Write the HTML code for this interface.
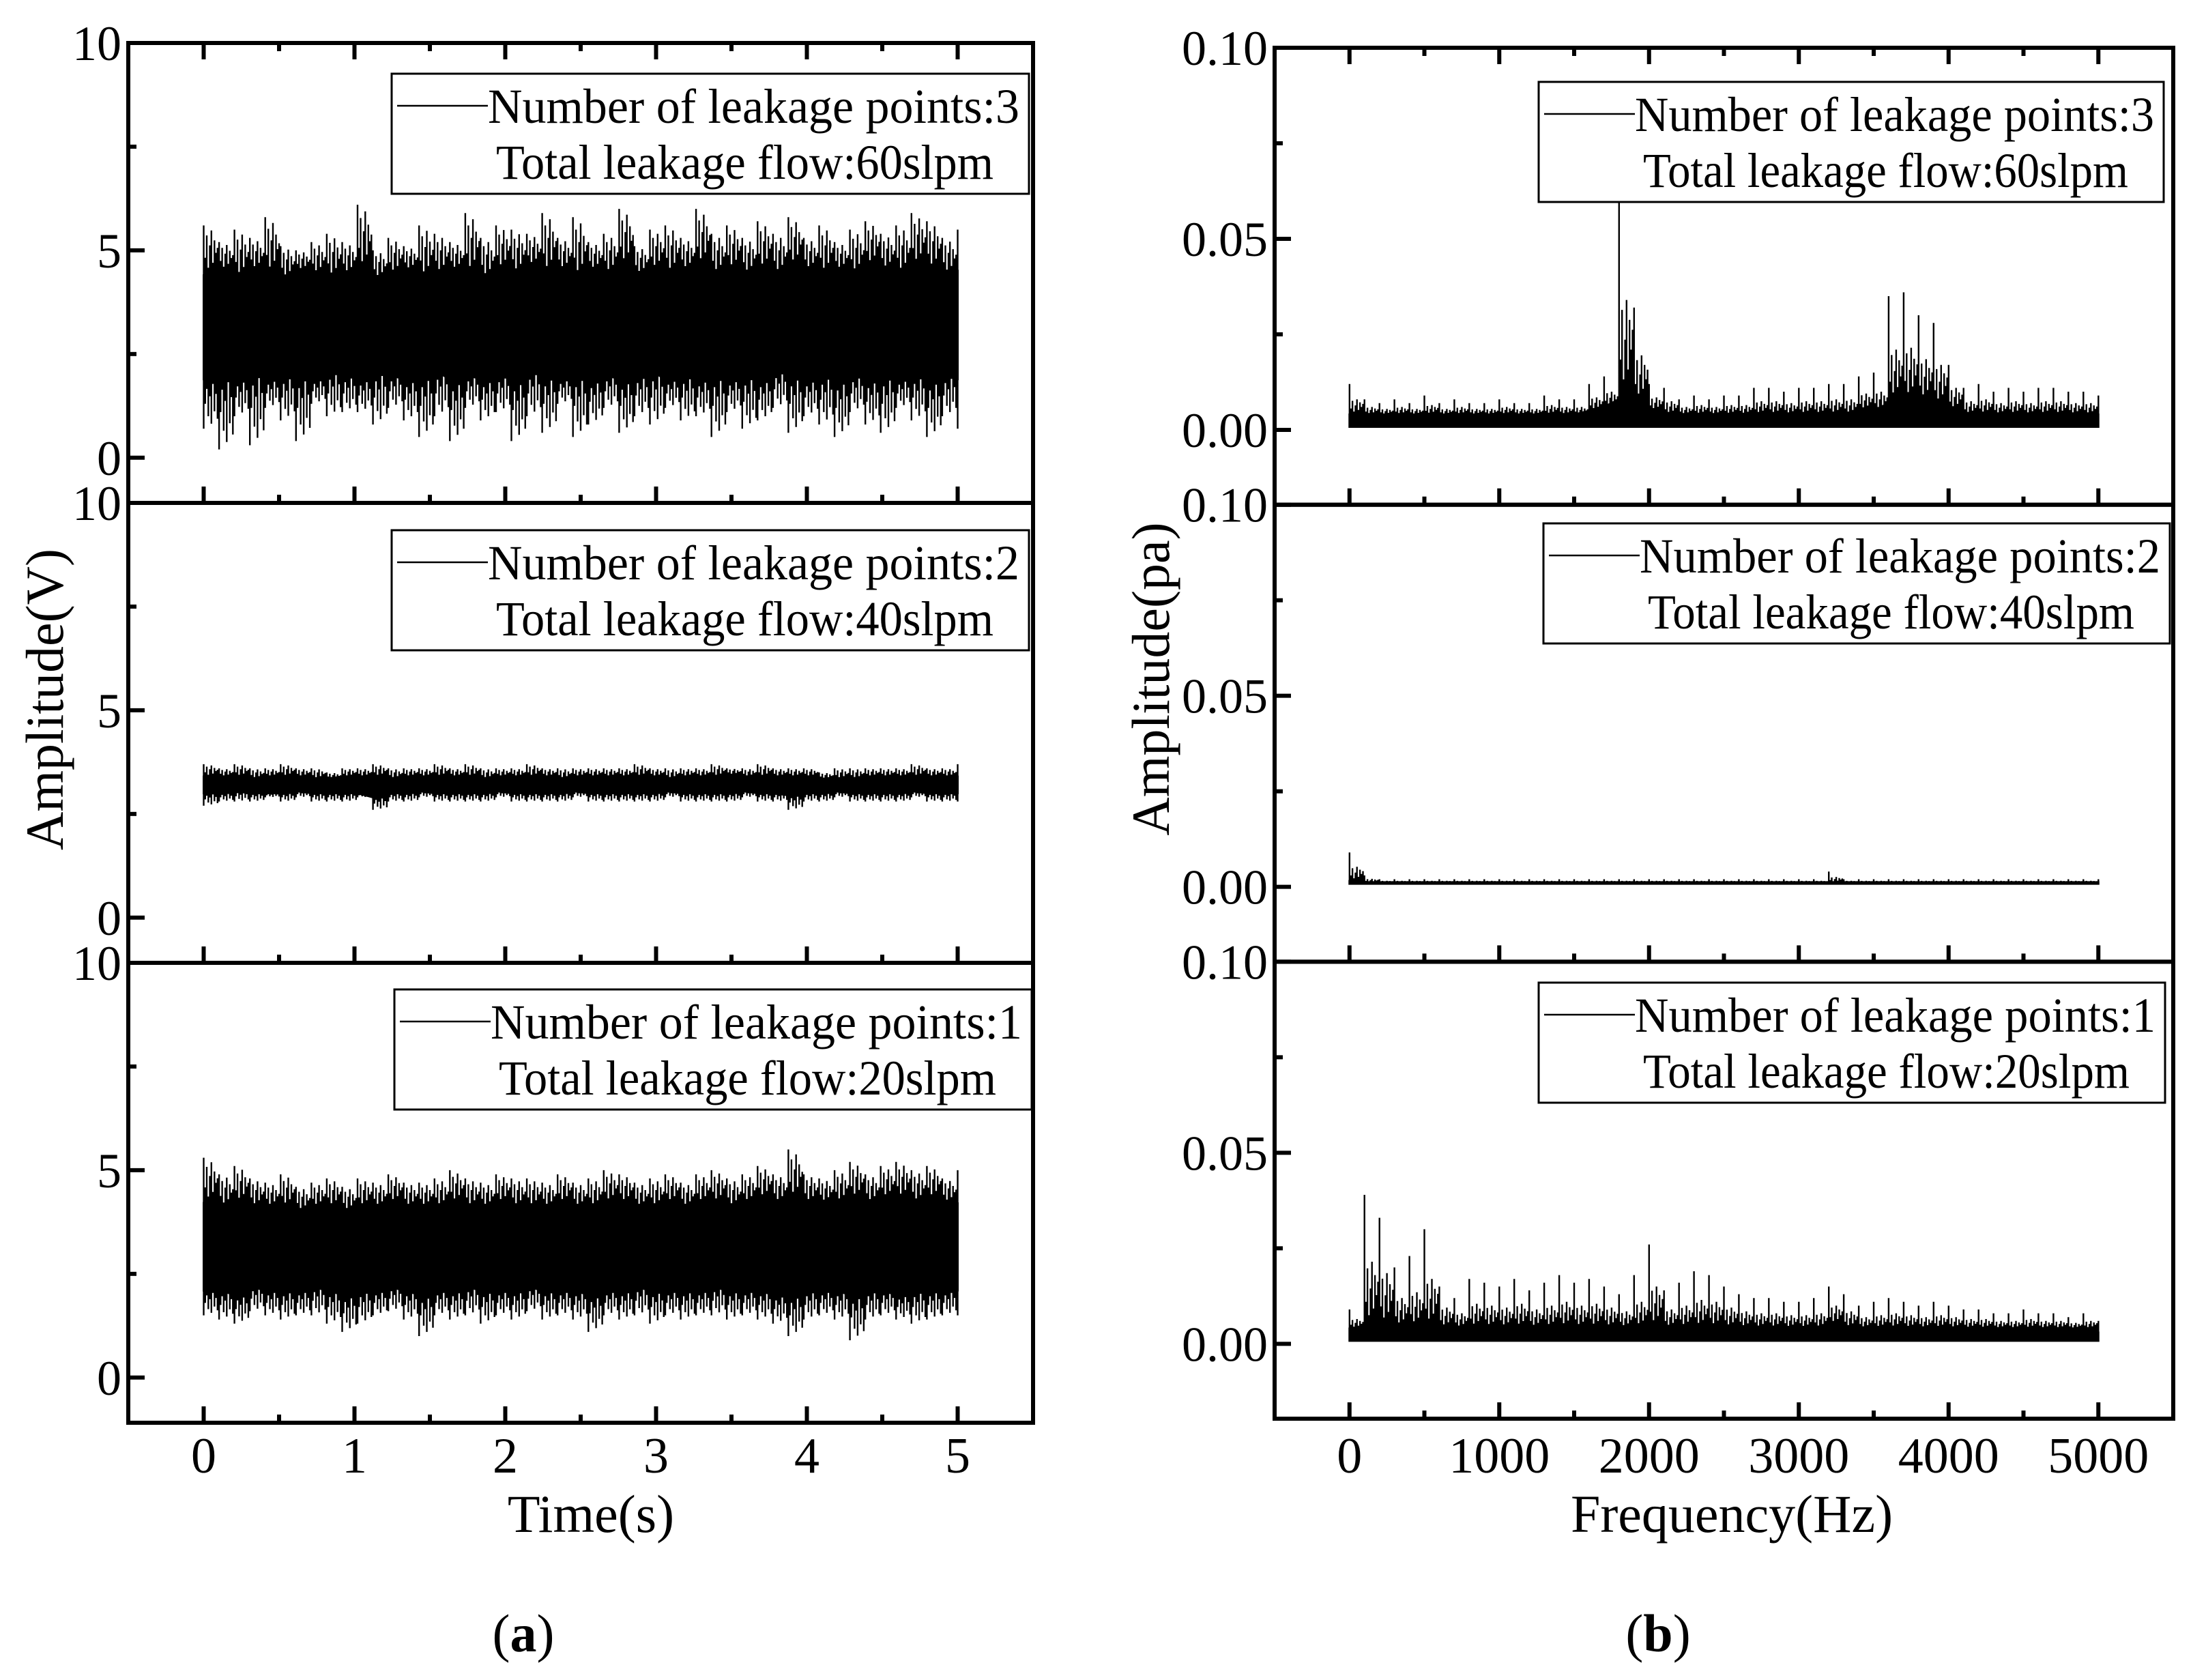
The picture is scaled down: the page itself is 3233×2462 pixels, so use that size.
<!DOCTYPE html>
<html><head><meta charset="utf-8">
<style>
html,body{margin:0;padding:0;background:#fff;}
svg{display:block;font-family:"Liberation Serif","Times New Roman",serif;}
</style></head>
<body>
<svg id="fig" width="3233" height="2462" viewBox="0 0 3233 2462" xmlns="http://www.w3.org/2000/svg">
<rect width="3233" height="2462" fill="#fff"/>
<g id="chartA"></g>
<g id="chartB"></g>
<text x="0" y="0" font-size="78" text-anchor="middle" transform="translate(92,1025) rotate(-90)">Amplitude(V)</text>
<text x="0" y="0" font-size="78" text-anchor="middle" transform="translate(1713,995) rotate(-90)">Amplitude(pa)</text>
<text x="866" y="2245" font-size="78" text-anchor="middle">Time(s)</text>
<text x="2538" y="2245" font-size="78" text-anchor="middle">Frequency(Hz)</text>
<text x="767" y="2420" font-size="78" text-anchor="middle">(<tspan font-weight="bold">a</tspan>)</text>
<text x="2430" y="2420" font-size="78" text-anchor="middle">(<tspan font-weight="bold">b</tspan>)</text>
</svg>
<script>
// ---- Chart (a) data: time-domain envelopes, 50 bins over 0..5 s ----
const timeTicks = [0,1,2,3,4,5];
const ampTicksA = [0,5,10];
const legendCountsA = [3,2,1];
const legendFlowsA = [60,40,20];
const a1Upper = [5.6,5.2,5.5,5.3,5.8,5.1,5.0,5.2,5.4,5.2,6.1,5.0,5.3,5.1,5.6,5.4,5.2,5.9,5.3,5.6,5.5,5.4,5.9,5.3,5.8,5.2,5.4,6.0,5.1,5.5,5.6,5.3,6.0,5.4,5.6,5.3,5.7,5.4,5.8,5.3,5.6,5.2,5.5,5.7,5.4,5.6,5.9,5.7,5.3,5.5];
const a1Lower = [0.7,0.2,1.0,0.3,1.2,0.9,0.4,1.3,1.0,1.1,1.1,0.8,1.2,0.9,0.5,1.0,0.4,1.2,0.9,1.1,0.4,1.0,0.6,1.3,0.5,0.8,1.2,0.6,1.0,0.8,1.2,0.9,1.0,0.5,1.1,0.7,0.9,1.2,0.6,1.0,0.8,0.5,1.1,0.8,0.6,1.2,0.9,0.5,1.0,0.7];
const a1CoreHi = [4.4,4.5,4.3,4.5,4.4,4.3,4.5,4.4,4.3,4.4,4.5,4.3,4.4,4.5,4.3,4.4,4.5,4.4,4.3,4.5,4.4,4.6,4.4,4.5,4.3,4.5,4.4,4.6,4.4,4.5,4.4,4.5,4.6,4.4,4.5,4.4,4.5,4.4,4.6,4.5,4.4,4.5,4.4,4.6,4.5,4.4,4.6,4.5,4.4,4.5];
const a1CoreLo = [1.9,2.0,1.9,2.1,1.9,2.0,2.0,1.9,2.1,2.0,1.9,2.1,2.0,1.9,2.0,2.1,1.9,2.0,1.9,2.0,1.9,2.1,2.0,1.9,2.0,1.9,2.0,1.9,2.0,2.1,1.9,2.0,1.9,2.0,1.9,2.0,1.9,2.1,2.0,1.9,2.0,1.9,2.0,1.9,2.0,1.9,2.0,1.9,2.0,1.9];
const a2Upper = [3.7,3.6,3.7,3.6,3.6,3.7,3.6,3.6,3.5,3.6,3.6,3.7,3.6,3.6,3.6,3.7,3.6,3.7,3.6,3.6,3.6,3.7,3.6,3.6,3.6,3.6,3.6,3.6,3.7,3.6,3.6,3.6,3.6,3.7,3.6,3.6,3.7,3.6,3.6,3.6,3.5,3.6,3.6,3.6,3.6,3.6,3.7,3.6,3.6,3.7];
const a2Lower = [2.7,2.8,2.8,2.8,2.9,2.8,2.9,2.8,2.8,2.8,2.9,2.6,2.8,2.8,2.9,2.8,2.8,2.8,2.8,2.9,2.8,2.8,2.8,2.8,2.9,2.8,2.8,2.8,2.8,2.8,2.9,2.8,2.8,2.8,2.8,2.9,2.8,2.8,2.6,2.8,2.8,2.9,2.8,2.8,2.8,2.8,2.9,2.8,2.8,2.8];
const a2CoreHi = [3.4,3.4,3.4,3.35,3.4,3.4,3.4,3.35,3.35,3.4,3.4,3.4,3.35,3.4,3.4,3.4,3.4,3.4,3.35,3.4,3.4,3.4,3.4,3.35,3.4,3.4,3.4,3.4,3.4,3.4,3.35,3.4,3.4,3.4,3.45,3.4,3.4,3.4,3.4,3.4,3.35,3.35,3.35,3.4,3.4,3.4,3.4,3.4,3.4,3.4];
const a2CoreLo = [3.0,3.0,3.05,3.0,3.0,3.0,3.05,3.0,3.0,3.0,3.0,2.9,3.0,3.0,3.05,3.0,3.0,3.0,3.0,3.05,3.0,3.0,3.0,3.0,3.05,3.0,3.0,3.0,3.0,3.0,3.05,3.0,3.0,3.0,3.0,3.05,3.0,3.0,2.95,3.0,3.0,3.05,3.0,3.0,3.0,3.0,3.05,3.0,3.0,3.0];
const a3Upper = [5.3,4.9,5.1,4.8,4.7,4.9,4.6,4.7,4.8,4.6,4.8,4.7,4.9,4.7,4.7,4.8,5.0,4.8,4.7,4.9,4.8,4.8,4.7,4.9,4.7,4.8,5.0,4.9,4.7,4.8,4.9,4.7,4.9,5.0,4.8,4.9,5.1,4.9,5.5,4.9,4.8,5.0,5.2,4.9,5.1,5.2,5.0,5.1,4.8,5.0];
const a3Lower = [1.5,1.4,1.3,1.6,1.5,1.4,1.5,1.5,1.3,1.1,1.3,1.5,1.6,1.4,1.0,1.5,1.4,1.5,1.3,1.5,1.4,1.6,1.4,1.5,1.4,1.1,1.5,1.4,1.5,1.3,1.5,1.4,1.5,1.5,1.4,1.5,1.4,1.3,1.0,1.4,1.5,1.4,0.9,1.4,1.5,1.4,1.3,1.4,1.5,1.5];
const a3CoreHi = [4.2,4.1,4.2,4.1,4.1,4.1,4.0,4.1,4.1,4.0,4.1,4.1,4.2,4.1,4.1,4.1,4.2,4.1,4.1,4.2,4.1,4.1,4.1,4.2,4.1,4.1,4.2,4.2,4.1,4.1,4.2,4.1,4.2,4.2,4.1,4.2,4.3,4.2,4.3,4.2,4.2,4.2,4.3,4.2,4.3,4.3,4.2,4.3,4.2,4.2];
const a3CoreLo = [2.1,2.1,2.0,2.2,2.1,2.1,2.1,2.2,2.1,2.0,2.1,2.1,2.2,2.1,2.0,2.1,2.1,2.2,2.1,2.1,2.1,2.2,2.1,2.1,2.1,2.0,2.1,2.1,2.2,2.1,2.1,2.1,2.1,2.2,2.1,2.1,2.1,2.0,2.0,2.1,2.1,2.1,2.0,2.1,2.1,2.0,2.1,2.1,2.1,2.1];

// ---- Chart (b) data: spectrum, 51 bins over 0..5000 Hz ----
const freqTicks = [0,1000,2000,3000,4000,5000];
const ampTicksB = [0,0.05,0.10];
const legendCountsB = [3,2,1];
const legendFlowsB = [60,40,20];
const b1Peak = [0.012,0.008,0.007,0.008,0.007,0.009,0.007,0.008,0.007,0.007,0.008,0.007,0.007,0.009,0.008,0.008,0.012,0.014,0.060,0.032,0.012,0.011,0.008,0.009,0.008,0.009,0.009,0.011,0.011,0.010,0.011,0.011,0.012,0.012,0.014,0.015,0.035,0.036,0.030,0.028,0.017,0.011,0.012,0.010,0.011,0.010,0.011,0.011,0.010,0.010,0.009];
const b1Band = [0.004,0.004,0.004,0.004,0.004,0.004,0.004,0.004,0.004,0.004,0.004,0.004,0.004,0.004,0.004,0.004,0.005,0.006,0.008,0.007,0.005,0.004,0.004,0.004,0.004,0.004,0.004,0.004,0.004,0.004,0.004,0.004,0.004,0.004,0.005,0.005,0.007,0.007,0.007,0.006,0.005,0.004,0.004,0.004,0.004,0.004,0.004,0.004,0.004,0.004,0.004];
const b2Peak = [0.009,0.003,0.002,0.002,0.002,0.002,0.002,0.002,0.002,0.002,0.002,0.002,0.002,0.002,0.002,0.002,0.002,0.002,0.002,0.002,0.002,0.002,0.002,0.002,0.002,0.002,0.002,0.002,0.002,0.002,0.002,0.002,0.004,0.002,0.002,0.002,0.002,0.002,0.002,0.002,0.002,0.002,0.002,0.002,0.002,0.002,0.002,0.002,0.002,0.002,0.002];
const b2Band = [0.0015,0.0012,0.0012,0.0012,0.0012,0.0012,0.0012,0.0012,0.0012,0.0012,0.0012,0.0012,0.0012,0.0012,0.0012,0.0012,0.0012,0.0012,0.0012,0.0012,0.0012,0.0012,0.0012,0.0012,0.0012,0.0012,0.0012,0.0012,0.0012,0.0012,0.0012,0.0012,0.0012,0.0012,0.0012,0.0012,0.0012,0.0012,0.0012,0.0012,0.0012,0.0012,0.0012,0.0012,0.0012,0.0012,0.0012,0.0012,0.0012,0.0012,0.0012];
const b3Peak = [0.009,0.039,0.033,0.020,0.023,0.030,0.015,0.012,0.017,0.016,0.015,0.017,0.014,0.016,0.018,0.016,0.017,0.015,0.013,0.018,0.026,0.014,0.016,0.019,0.018,0.015,0.013,0.012,0.012,0.011,0.011,0.012,0.015,0.013,0.010,0.011,0.012,0.011,0.010,0.011,0.010,0.009,0.009,0.008,0.008,0.009,0.008,0.008,0.007,0.008,0.006];
const b3Band = [0.004,0.004,0.004,0.004,0.004,0.004,0.004,0.004,0.004,0.004,0.004,0.004,0.004,0.004,0.004,0.004,0.004,0.004,0.004,0.004,0.004,0.004,0.004,0.004,0.004,0.004,0.004,0.004,0.004,0.004,0.004,0.004,0.005,0.004,0.004,0.004,0.004,0.004,0.004,0.004,0.004,0.004,0.004,0.004,0.004,0.004,0.004,0.004,0.004,0.004,0.003];

// fixed rendering texture (styling only, not data)
const texUp = [1.0,0.35,0.8,0.15,0.6,0.9,0.25,0.7,0.45,0.55];
const texDn = [1.0,0.5,0.2,0.75,0.35,0.9,0.1,0.65,0.3,0.8];
const texSp = [1.0,0.2,0.45,0.1,0.3,0.5,0.15,0.4,0.25,0.35];

const NS = 'http://www.w3.org/2000/svg';
function mk(parent, tag, attrs){ const e=document.createElementNS(NS,tag); for(const k in attrs) e.setAttribute(k,attrs[k]); parent.appendChild(e); return e; }

// ---------- Chart A ----------
const A = {x0:188, x1:1514, top:63, ph:674, tmin:-0.5, tmax:5.5, vmin:-1.09, vmax:10};
function ax(t){ return A.x0 + (t-A.tmin)/(A.tmax-A.tmin)*(A.x1-A.x0); }
function ay(i,v){ return A.top + i*A.ph + (A.vmax-v)/(A.vmax-A.vmin)*A.ph; }
const gA = document.getElementById('chartA');
const seriesA = [[a1Upper,a1Lower,a1CoreHi,a1CoreLo],[a2Upper,a2Lower,a2CoreHi,a2CoreLo],[a3Upper,a3Lower,a3CoreHi,a3CoreLo]];
seriesA.forEach((s,i)=>{
  const [up,lo,ch,cl] = s;
  const n = up.length;
  const g = mk(gA,'g',{});
  
  
  let pts=[];
  for(let k=0;k<n;k++){ const t=k*5/(n-1); pts.push(ax(t)+','+ay(i,ch[k])); }
  for(let k=n-1;k>=0;k--){ const t=k*5/(n-1); pts.push(ax(t)+','+ay(i,cl[k])); }
  const core = mk(g,'polygon',{points:pts.join(' '),fill:'#000',stroke:'#000','stroke-width':3});
  
  
  let d='';
  for(let k=0;k<n;k++){
    const m = (k<n-1)?texUp.length:1;
    for(let j=0;j<m;j++){
      const t=(k+j/texUp.length)*5/(n-1);
      const yt = ch[k] + texUp[j]*(up[k]-ch[k]);
      const yb = cl[k] - texDn[j]*(cl[k]-lo[k]);
      d += 'M'+ax(t).toFixed(1)+' '+ay(i,yt).toFixed(1)+'V'+ay(i,yb).toFixed(1);
    }
  }
  const sp = mk(g,'path',{d:d,stroke:'#000','stroke-width':2.4,fill:'none'});
  
  
});
function axesFrame(gp, x0,x1,top,ph,i,label,xt,xfn,yt,yfn,ylabFmt,minorX,minorY){
  const fr = mk(gp,'rect',{x:x0,y:top,width:x1-x0,height:ph,fill:'none',stroke:'#000','stroke-width':6});
  
  
  const bot = top+ph;
  xt.forEach(v=>{
    const x=xfn(v);
    const t=mk(gp,'line',{x1:x,x2:x,y1:bot,y2:bot-24,stroke:'#000','stroke-width':6});
     
    if(i===0){ const t2=mk(gp,'line',{x1:x,x2:x,y1:top,y2:top+24,stroke:'#000','stroke-width':6});   }
  });
  minorX.forEach(v=>{
    const x=xfn(v);
    const t=mk(gp,'line',{x1:x,x2:x,y1:bot,y2:bot-12,stroke:'#000','stroke-width':6});
     
    if(i===0){ const t2=mk(gp,'line',{x1:x,x2:x,y1:top,y2:top+12,stroke:'#000','stroke-width':6});   }
  });
  yt.forEach(v=>{
    const y=yfn(v);
    const t=mk(gp,'line',{x1:x0,x2:x0+24,y1:y,y2:y,stroke:'#000','stroke-width':6});
     
    const tx=mk(gp,'text',{x:x0-10,y:y+25,'font-size':72,'text-anchor':'end'});
    tx.textContent=ylabFmt(v);
     
  });
  minorY.forEach(v=>{
    const y=yfn(v);
    const t=mk(gp,'line',{x1:x0,x2:x0+12,y1:y,y2:y,stroke:'#000','stroke-width':6});
     
  });
}
function legend(gp,x,y,w,h,count,flow){
  const g=mk(gp,'g',{});
   
  mk(g,'rect',{x:x,y:y,width:w,height:h,fill:'#fff',stroke:'#000','stroke-width':3});
  mk(g,'line',{x1:x+8,x2:x+141,y1:y+47,y2:y+47,stroke:'#000','stroke-width':2.5});
  const t1=mk(g,'text',{x:x+141,y:y+72,'font-size':72,textLength:w-155,lengthAdjust:'spacingAndGlyphs'});
  t1.textContent='Number of leakage points:'+count;
   
  const t2=mk(g,'text',{x:x+153,y:y+154,'font-size':72,textLength:w-205,lengthAdjust:'spacingAndGlyphs'});
  t2.textContent='Total leakage flow:'+flow+'slpm';
   
}
const legA = [[574,108],[574,777],[578,1450]];
for(let i=0;i<3;i++){
  const top=A.top+i*A.ph;
  axesFrame(gA,A.x0,A.x1,top,A.ph,i,'a'+(i+1),timeTicks,ax,ampTicksA,v=>ay(i,v),v=>String(v),[0.5,1.5,2.5,3.5,4.5],[2.5,7.5]);
  legend(gA,legA[i][0],legA[i][1],934,176,legendCountsA[i],legendFlowsA[i]);
}
timeTicks.forEach(t=>{
  const tx=mk(gA,'text',{x:ax(t),y:2158,'font-size':74,'text-anchor':'middle'});
  tx.textContent=String(t);
   
});

// ---------- Chart B ----------
const B = {x0:1868, x1:3185, top:70, ph:669.7, fmin:-500, fmax:5500, vmin:-0.0196, vmax:0.1};
function bx(f){ return B.x0 + (f-B.fmin)/(B.fmax-B.fmin)*(B.x1-B.x0); }
function by(i,v){ return B.top + i*B.ph + (B.vmax-v)/(B.vmax-B.vmin)*B.ph; }
const gB=document.getElementById('chartB');
const seriesB=[[b1Peak,b1Band],[b2Peak,b2Band],[b3Peak,b3Band]];
seriesB.forEach((s,i)=>{
  const [pk,bd]=s; const n=pk.length;
  const g=mk(gB,'g',{});
  
  
  let pts=[];
  for(let k=0;k<n;k++){ pts.push(bx(k*100)+','+by(i,bd[k])); }
  for(let k=n-1;k>=0;k--){ pts.push(bx(k*100)+','+by(i,0.0008)); }
  const band=mk(g,'polygon',{points:pts.join(' '),fill:'#000',stroke:'#000','stroke-width':3});
   
  let d='';
  for(let k=0;k<n;k++){
    const m=(k<n-1)?texSp.length:1;
    for(let j=0;j<m;j++){
      const f=(k+j/texSp.length)*100;
      const top = bd[k] + texSp[j]*(pk[k]-bd[k]);
      d += 'M'+bx(f).toFixed(1)+' '+by(i,top).toFixed(1)+'V'+by(i,0.001).toFixed(1);
    }
  }
  const sp=mk(g,'path',{d:d,stroke:'#000','stroke-width':2.4,fill:'none'});
   
});
const legB=[[2255,120,916],[2262,767,918],[2255,1440,918]];
for(let i=0;i<3;i++){
  const top=B.top+i*B.ph;
  axesFrame(gB,B.x0,B.x1,top,B.ph,i,'b'+(i+1),freqTicks,bx,ampTicksB,v=>by(i,v),v=>v.toFixed(2),[500,1500,2500,3500,4500],[0.025,0.075]);
  legend(gB,legB[i][0],legB[i][1],legB[i][2],176,legendCountsB[i],legendFlowsB[i]);
}
freqTicks.forEach(f=>{
  const tx=mk(gB,'text',{x:bx(f),y:2158,'font-size':74,'text-anchor':'middle'});
  tx.textContent=String(f);
   
});
</script>
</body></html>
